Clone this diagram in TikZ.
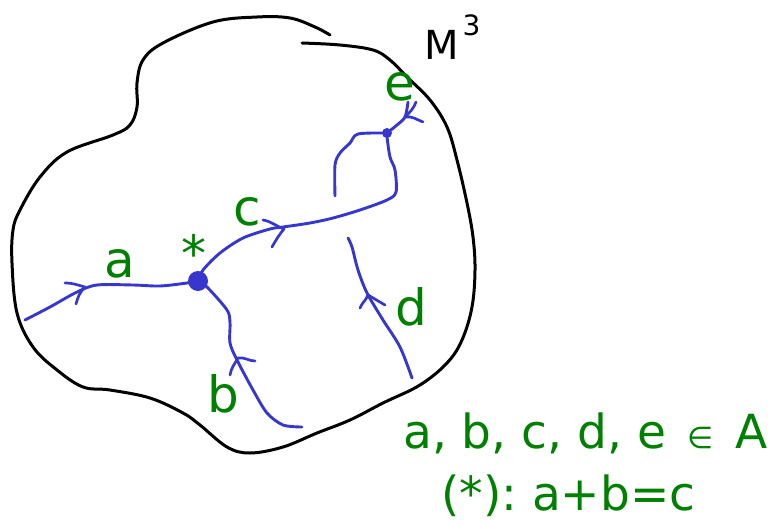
\documentclass[tikz,border=0pt]{standalone}
\usepackage{fontspec}
\setmainfont{DejaVu Sans}
\frenchspacing
\definecolor{pen}{RGB}{55,55,205}
\definecolor{lab}{RGB}{0,128,0}
\tikzset{
  outline/.style={draw=black, line width=3pt, line cap=round, line join=round},
  strand/.style={draw=pen, line width=2.9pt, line cap=round, line join=round},
  chev/.style={draw=pen, line width=2.7pt, line cap=round, line join=round},
  lbl/.style={text=lab, inner sep=0pt, anchor=base, font=\fontsize{50}{60}\selectfont},
  note/.style={text=lab, inner sep=0pt, anchor=base west, font=\fontsize{47}{56}\selectfont},
}
\begin{document}
\begin{tikzpicture}[x=1pt,y=-1pt]
\useasboundingbox (0,0) rectangle (775,524);
% manifold outline
\draw[outline] plot[smooth, tension=0.6] coordinates {(302,43) (340,45) (373,50) (390,60) (407,77) (430,100) (447,127) (457,160) (467,203) (473,237) (475,270) (472,307) (462,340) (447,363) (420,385) (383,403) (350,420) (317,433) (283,447) (250,453) (227,447) (200,425) (183,413) (150,398) (110,390) (83,387) (57,370) (33,347) (17,313) (12,263) (13,230) (20,210) (40,177) (67,152) (113,135) (130,125) (137,107) (137,83) (143,60) (163,43) (213,22) (257,17) (290,18) (315,27) (330,35)};
% junctions
\coordinate (hub) at (198,281);
\coordinate (top) at (387,133);
\fill[pen] (hub) circle (10);
\fill[pen] (top) circle (5);
% strand a
\draw[strand] plot[smooth] coordinates {(25,320) (50,307) (77,292) (97,285) (133,285) (160,286) (187,283) (198,281)};
\draw[chev] (65,283) to[out=0,in=165] (85,287) to[out=225,in=75] (76,304);
% strand b
\draw[strand] plot[smooth] coordinates {(198,281) (207,287) (227,310) (230,323) (230,343) (237,360) (253,390) (267,413) (283,425) (302,427)};
\draw[chev] (230,375) to[out=80,in=240] (238,358) to[out=10,in=180] (255,361);
% strand c
\draw[strand] plot[smooth] coordinates {(198,281) (203,270) (220,253) (243,238) (270,229) (283,227) (310,223) (333,218) (360,210) (387,200) (396,192) (395,170) (390,157) (387,137) (387,133)};
\draw[chev] (263,220) to[out=-10,in=160] (284,229) to[out=230,in=60] (272,247);
% branch left of top junction
\draw[strand] plot[smooth] coordinates {(387,133) (358,134) (350,143) (340,153) (335,165) (335,196)};
% strand e
\draw[strand] plot[smooth] coordinates {(387,133) (397,125) (405,117) (408,102)};
\draw[chev] (416,102) to[out=250,in=45] (405,117) to[out=10,in=160] (423,122);
% strand d
\draw[strand] plot[smooth] coordinates {(348,238) (352,247) (358,270) (367,293) (383,320) (400,347) (412,378)};
\draw[chev] (360,308) to[out=70,in=250] (368,295) to[out=-30,in=150] (385,305);
% labels
\node[lbl] (la) at (120,277) {a};
\node[lbl] (ls) at (194,271) {*};
\node[lbl] (lc) at (247,225) {c};
\node[lbl] (lb) at (223,412) {b};
\node[lbl] (ld) at (411,325) {d};
\node[lbl] (le) at (400,100) {e};
\node[anchor=base west, inner sep=0pt, font=\fontsize{40}{48}\selectfont] (lm) at (424,60) {M\hspace{4pt}\raisebox{0.6em}{\fontsize{28}{32}\selectfont 3}};
\node[note] (n1) at (403,448) {a, b, c, d, e\hspace{22pt}{\fontsize{30}{36}\selectfont ∈}\hspace{21pt}A};
\node[note] (n2) at (441,510) {(*): a+b=c};
\end{tikzpicture}
\end{document}
